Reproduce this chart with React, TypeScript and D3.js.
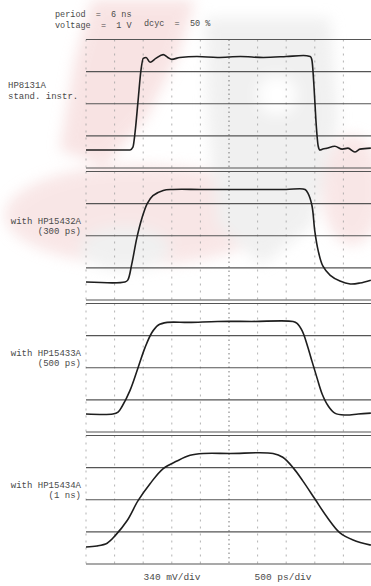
import React from 'react';
import * as d3 from 'd3';

// time in ns, level in V (500 ps/div, 340 mV/div)
const hp8131a: [number, number][] = [
  [0, 0], [0.77, 0], [0.82, 0.03], [0.86, 0.2], [0.91, 0.52], [0.96, 0.84], [1.0, 0.97],
  [1.05, 0.98], [1.12, 0.93], [1.22, 0.97], [1.35, 1.01], [1.43, 0.98], [1.5, 0.96],
  [1.64, 0.98], [1.94, 0.99], [2.3, 0.98], [2.7, 0.99], [3.1, 0.98], [3.5, 0.99],
  [3.8, 1.0], [3.92, 0.99], [3.95, 0.95], [3.99, 0.63], [4.02, 0.31], [4.06, 0.04],
  [4.09, 0], [4.14, 0.01], [4.21, 0.02], [4.35, 0.04], [4.48, 0.01], [4.58, 0.02],
  [4.7, -0.02], [4.79, 0.01], [4.98, 0.02],
];
const hp15432a: [number, number][] = [
  [0, 0], [0.68, 0], [0.73, 0.02], [0.8, 0.19], [0.89, 0.47], [0.98, 0.68], [1.07, 0.83],
  [1.17, 0.915], [1.35, 0.97], [1.52, 0.98], [2.0, 0.98], [2.5, 0.98], [3.0, 0.98],
  [3.5, 0.98], [3.83, 0.98], [3.88, 0.94], [3.95, 0.81], [4.0, 0.54], [4.06, 0.33],
  [4.14, 0.17], [4.27, 0.07], [4.44, 0.01], [4.62, -0.02], [4.79, -0.01], [4.98, 0.02],
];
const hp15433a: [number, number][] = [
  [0, 0], [0.47, 0], [0.56, 0.02], [0.63, 0.08], [0.77, 0.25], [0.91, 0.49], [1.03, 0.7],
  [1.15, 0.86], [1.26, 0.94], [1.42, 0.97], [1.8, 0.97], [2.3, 0.98], [2.9, 0.98],
  [3.62, 0.98], [3.69, 0.96], [3.78, 0.88], [3.86, 0.745], [3.95, 0.56], [4.04, 0.38],
  [4.13, 0.21], [4.23, 0.09], [4.35, 0.01], [4.53, -0.01], [4.76, 0], [4.98, 0.01],
];
const hp15434a: [number, number][] = [
  [0, -0.01], [0.19, 0], [0.37, 0.03], [0.51, 0.11], [0.72, 0.27], [0.91, 0.48],
  [1.12, 0.66], [1.35, 0.82], [1.59, 0.9], [1.82, 0.96], [2.05, 0.98], [2.52, 0.98],
  [3.27, 0.98], [3.44, 0.94], [3.62, 0.83], [3.79, 0.69], [4.0, 0.5], [4.21, 0.31],
  [4.44, 0.14], [4.67, 0.065], [4.98, 0.01],
];

const traces = [hp8131a, hp15432a, hp15433a, hp15434a];
const labels = [
  ['HP8131A', 'stand. instr.'],
  ['with HP15432A', '(300 ps)'],
  ['with HP15433A', '(500 ps)'],
  ['with HP15434A', '(1 ns)'],
];
const headerLines = ['period  =  6 ns', 'voltage  =  1 V'];
const dutyLabel = 'dcyc  =  50 %';
const scaleLabels = ['340 mV/div', '500 ps/div'];

const W = 371;
const H = 586;
const mono = '"Liberation Mono", "DejaVu Sans Mono", monospace';
const ink = '#4a4a4a';

export default function App() {
  const x = d3.scaleLinear().domain([0, 5]).range([86, 372]);
  const panelH = 128.5;
  const panelTops = [39.5, 171.5, 303.5, 435.5];
  const vDivs = d3.range(0, 5.01, 0.5);

  return (
    <svg width={W} height={H} style={{ position: 'absolute', left: 0, top: 0, background: '#fff' }}>
      <defs>
        <filter id="soft" x="-20%" y="-20%" width="140%" height="140%">
          <feGaussianBlur stdDeviation="7" />
        </filter>
      </defs>
      {/* faint watermark behind the scan */}
      <g filter="url(#soft)" opacity={0.5}>
        <path d="M92,0 L195,0 L178,55 L145,120 L105,165 L60,150 L75,60 Z" fill="#f2c9c9" />
        <ellipse cx={140} cy={215} rx={135} ry={50} fill="#f3cfcf" />
        <ellipse cx={352} cy={190} rx={30} ry={55} fill="#f3cfcf" />
        <path d="M205,18 L330,18 L338,120 L312,225 L262,265 L218,225 L208,120 Z" fill="#e2e2e2" />
        <circle cx={277} cy={95} r={20} fill="#ffffff" />
        <ellipse cx={125} cy={248} rx={45} ry={22} fill="#e2e2e2" />
      </g>

      <g fontFamily={mono} fill={ink}>
        <text x={55} y={17} fontSize={8.5} xmlSpace="preserve">{headerLines[0]}</text>
        <text x={55} y={28} fontSize={8.5} xmlSpace="preserve">{headerLines[1]}</text>
        <text x={144} y={26} fontSize={8.5} xmlSpace="preserve">{dutyLabel}</text>
        <text x={172} y={580} fontSize={9.5} textAnchor="middle">{scaleLabels[0]}</text>
        <text x={283} y={580} fontSize={9.5} textAnchor="middle">{scaleLabels[1]}</text>
      </g>

      {traces.map((data, i) => {
        const top = panelTops[i];
        const y = d3.scaleLinear().domain([-0.19, 1.17]).range([top + panelH, top]);
        const hLines = d3.range(5).map(k => -0.19 + k * 0.34);
        const line = d3.line<[number, number]>()
          .x(d => x(d[0]))
          .y(d => y(d[1]))
          .curve(i === 0 ? d3.curveMonotoneX : d3.curveCatmullRom.alpha(0.5));
        const lab = labels[i];
        return (
          <g key={i}>
            {vDivs.map((t, k) => (
              <line key={'v' + k} x1={x(t)} x2={x(t)} y1={top} y2={top + panelH}
                stroke={t === 2.5 ? '#777' : '#a0a0a0'} strokeWidth={t === 2.5 ? 1 : 0.8}
                strokeDasharray={t === 2.5 ? '1.5,3' : '2,5'} />
            ))}
            {hLines.map((v, k) => (
              <line key={'h' + k} x1={86} x2={W} y1={y(v)} y2={y(v)}
                stroke="#555" strokeWidth={1.2} />
            ))}
            <path d={line(data) ?? ''} fill="none" stroke="#1e1e1e" strokeWidth={1.6} />
            {i === 0 ? (
              <g fontFamily={mono} fill={ink} fontSize={9}>
                <text x={8} y={88}>{lab[0]}</text>
                <text x={8} y={98.5}>{lab[1]}</text>
              </g>
            ) : (
              <g fontFamily={mono} fill={ink} fontSize={9} textAnchor="end">
                <text x={81} y={top + 52}>{lab[0]}</text>
                <text x={81} y={top + 62.5}>{lab[1]}</text>
              </g>
            )}
          </g>
        );
      })}
    </svg>
  );
}
